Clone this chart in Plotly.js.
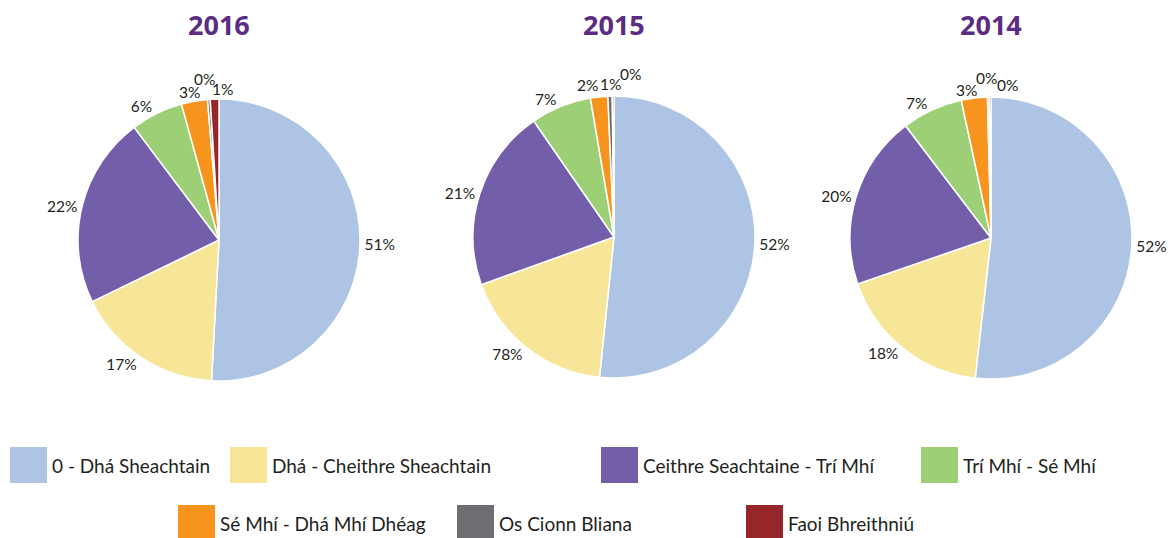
<!DOCTYPE html>
<html>
<head>
<meta charset="utf-8">
<script src="https://cdn.plot.ly/plotly-3.0.1.min.js"></script>
<style>html,body{margin:0;padding:0;background:#fff;}#chart{width:1173px;height:538px;}</style>
</head>
<body>
<div id="chart"></div>
<script>
// ---- data ----
const categories = ['0 - Dhá Sheachtain', 'Dhá - Cheithre Sheachtain', 'Ceithre Seachtaine - Trí Mhí', 'Trí Mhí - Sé Mhí', 'Sé Mhí - Dhá Mhí Dhéag', 'Os Cionn Bliana', 'Faoi Bhreithniú'];
const years = ['2016', '2015', '2014'];
const values2016 = [51, 17, 22, 6, 3, 0.3, 1];
const labels2016 = ['51%', '17%', '22%', '6%', '3%', '0%', '1%'];
const values2015 = [52, 18, 21, 7, 2, 0.5, 0.2];
const labels2015 = ['52%', '78%', '21%', '7%', '2%', '1%', '0%'];
const values2014 = [52, 18, 20, 7, 3, 0.2, 0.2];
const labels2014 = ['52%', '18%', '20%', '7%', '3%', '0%', '0%'];
const colors = ['#AEC4E5', '#F7E598', '#735FA9', '#9DCF76', '#F7941D', '#6D6E71', '#96262A'];

// ---- layout helpers ----
const W = 1173, H = 538;
const FONT = 'Lato, "Open Sans", sans-serif';
const TEXT = '#231F20';
const R = 141;
const LBL = 15.5;
const centers = [[219, 240], [614, 237], [991, 238]];
const allValues = [values2016, values2015, values2014];
const allLabels = [labels2016, labels2015, labels2014];
// the three thin top slices (index 4..6) get hand-placed labels, side by side
const smallStart = 4;
const smallLabelPos = [
  [[189, 92], [204, 79], [222, 89]],
  [[587, 85], [610, 84], [630, 74]],
  [[966, 90], [986, 78], [1007, 85]]
];

const annotations = [];
const traces = allValues.map((vals, i) => {
  const [cx, cy] = centers[i];
  const tp = vals.map((v, k) => k >= smallStart ? 'none' : 'outside');
  for (let k = smallStart; k < vals.length; k++) {
    const [lx, ly] = smallLabelPos[i][k - smallStart];
    annotations.push({
      text: allLabels[i][k], xref: 'paper', yref: 'paper',
      x: lx / W, y: 1 - ly / H, xanchor: 'center', yanchor: 'middle',
      showarrow: false, font: {family: FONT, size: LBL, color: TEXT}
    });
  }
  return {
    type: 'pie',
    labels: categories,
    values: vals,
    text: allLabels[i],
    textinfo: 'text',
    textposition: tp,
    outsidetextfont: {family: FONT, size: LBL, color: TEXT},
    sort: false,
    direction: 'clockwise',
    rotation: 0,
    marker: {colors: colors, line: {color: '#ffffff', width: 1.5}},
    domain: {
      x: [(cx - R) / W, (cx + R) / W],
      y: [1 - (cy + R) / H, 1 - (cy - R) / H]
    },
    hoverinfo: 'label+percent',
    showlegend: false
  };
});

years.forEach((y, i) => annotations.push({
  text: '<b>' + y + '</b>',
  xref: 'paper', yref: 'paper',
  x: centers[i][0] / W, y: 1 - 25 / H,
  xanchor: 'center', yanchor: 'middle',
  showarrow: false,
  font: {family: '"Open Sans", sans-serif', size: 27, color: '#5B2C83'}
}));

// custom legend (large swatches)
const legendPos = [[10, 465], [230, 465], [601, 465], [921, 465], [178, 523], [457, 523], [746, 523]];
const shapes = [];
categories.forEach((c, i) => {
  const [lx, ly] = legendPos[i];
  shapes.push({
    type: 'rect', xref: 'paper', yref: 'paper',
    x0: lx / W, x1: (lx + 37) / W,
    y0: 1 - (ly + 18) / H, y1: 1 - (ly - 18) / H,
    fillcolor: colors[i], line: {width: 0}
  });
  annotations.push({
    text: c, xref: 'paper', yref: 'paper',
    x: (lx + 40) / W, y: 1 - ly / H,
    xanchor: 'left', yanchor: 'middle', showarrow: false,
    font: {family: FONT, size: 19, color: TEXT}
  });
});

const layout = {
  width: W, height: H,
  margin: {l: 0, r: 0, t: 0, b: 0},
  paper_bgcolor: '#ffffff',
  showlegend: false,
  annotations: annotations,
  shapes: shapes
};

Plotly.newPlot('chart', traces, layout, {displayModeBar: false, staticPlot: true});
</script>
</body>
</html>
